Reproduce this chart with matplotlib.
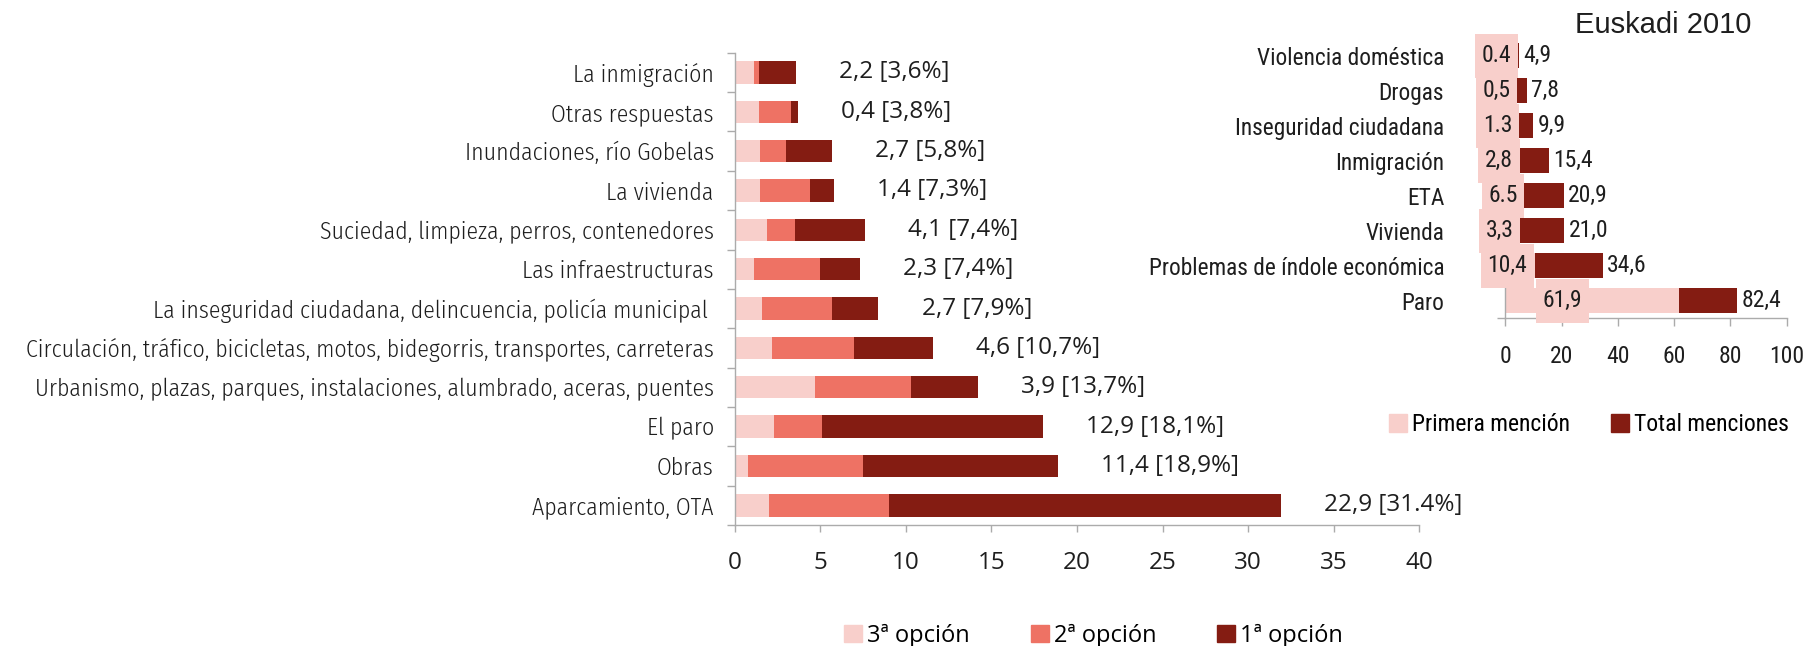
import matplotlib
matplotlib.use("Agg")
import matplotlib.pyplot as plt
import numpy as np
from matplotlib.patches import Patch
from matplotlib.path import Path
from matplotlib.font_manager import FontProperties

# ---------------------------------------------------------------------
# Left chart: problems of the municipality (top to bottom)
# ---------------------------------------------------------------------
problemas = [
    "La inmigración",
    "Otras respuestas",
    "Inundaciones, río Gobelas",
    "La vivienda",
    "Suciedad, limpieza, perros, contenedores",
    "Las infraestructuras",
    "La inseguridad ciudadana, delincuencia, policía municipal ",
    "Circulación, tráfico, bicicletas, motos, bidegorris, transportes, carreteras",
    "Urbanismo, plazas, parques, instalaciones, alumbrado, aceras, puentes",
    "El paro",
    "Obras",
    "Aparcamiento, OTA",
]
opcion_3 = [1.1, 1.4, 1.5, 1.5, 1.9, 1.1, 1.6, 2.2, 4.7, 2.3, 0.8, 2.0]
opcion_2 = [0.3, 1.9, 1.5, 2.9, 1.6, 3.9, 4.1, 4.8, 5.6, 2.8, 6.7, 7.0]
opcion_1 = [2.2, 0.4, 2.7, 1.4, 4.1, 2.3, 2.7, 4.6, 3.9, 12.9, 11.4, 22.9]
etiquetas = [
    "2,2 [3,6%]", "0,4 [3,8%]", "2,7 [5,8%]", "1,4 [7,3%]", "4,1 [7,4%]",
    "2,3 [7,4%]", "2,7 [7,9%]", "4,6 [10,7%]", "3,9 [13,7%]",
    "12,9 [18,1%]", "11,4 [18,9%]", "22,9 [31.4%]",
]
x_ticks = [0, 5, 10, 15, 20, 25, 30, 35, 40]

# ---------------------------------------------------------------------
# Right chart: Euskadi 2010
# ---------------------------------------------------------------------
temas = [
    "Violencia doméstica",
    "Drogas",
    "Inseguridad ciudadana",
    "Inmigración",
    "ETA",
    "Vivienda",
    "Problemas de índole económica",
    "Paro",
]
primera_mencion = [0.4, 0.5, 1.3, 2.8, 6.5, 3.3, 10.4, 61.9]
total_menciones = [4.9, 7.8, 9.9, 15.4, 20.9, 21.0, 34.6, 82.4]
primera_txt = ["0.4", "0,5", "1.3", "2,8", "6.5", "3,3", "10,4", "61,9"]
total_txt = ["4,9", "7,8", "9,9", "15,4", "20,9", "21,0", "34,6", "82,4"]
x_ticks_2 = [0, 20, 40, 60, 80, 100]

PINK = "#F8CFCB"
CORAL = "#EE7264"
DARK = "#841C12"
AXIS = "#ABABAB"
INK = "#1E1E1E"

# fonts: semi-condensed light for the left categories, Open Sans for the
# left numbers, Roboto Condensed for the whole right chart
CAT_FONT = FontProperties(family=["Fira Sans Condensed", "DejaVu Sans"],
                          weight=300, size=17.1)
NUM_FONT = FontProperties(family=["Open Sans", "DejaVu Sans"], size=17.5)
LEG_FONT = FontProperties(family=["Open Sans", "DejaVu Sans"], size=17)
COND = ["Roboto Condensed", "DejaVu Sans"]
R_FONT = FontProperties(family=COND, size=17)
R_CAT_FONT = FontProperties(family=COND, size=16.8)


def label_box(x0, y0, width, height, mutation_size):
    """Rectangle with more vertical than horizontal padding."""
    px, py = 0.28 * mutation_size, 0.45 * mutation_size
    x0, y0 = x0 - px, y0 - py
    x1, y1 = x0 + width + 2 * px, y0 + height + 2 * py
    return Path([(x0, y0), (x1, y0), (x1, y1), (x0, y1), (x0, y0)], closed=True)


fig = plt.figure(figsize=(18.06, 6.46), dpi=100)

# =====================================================================
# Left stacked bar chart
# =====================================================================
ax = fig.add_axes([0.4068, 0.1873, 0.3791, 0.7311])
y = np.arange(len(problemas))
base_2 = np.array(opcion_3)
base_1 = base_2 + np.array(opcion_2)
totals = base_1 + np.array(opcion_1)

ax.barh(y, opcion_3, height=0.57, color=PINK, zorder=2)
ax.barh(y, opcion_2, left=base_2, height=0.57, color=CORAL, zorder=2)
ax.barh(y, opcion_1, left=base_1, height=0.57, color=DARK, zorder=2)

for yi, tot, txt in zip(y, totals, etiquetas):
    ax.annotate(txt, (tot, yi), xytext=(31, 0), textcoords="offset points",
                ha="left", va="center", fontproperties=NUM_FONT, color=INK)

ax.set_xlim(0, 40)
ax.set_ylim(len(y) - 0.5, -0.5)
ax.set_xticks(x_ticks)
ax.set_xticklabels([str(t) for t in x_ticks], fontproperties=NUM_FONT,
                   color=INK)
ax.set_yticks(np.arange(len(y) + 1) - 0.5)
ax.set_yticklabels([])
ax.set_yticks(y, minor=True)
ax.set_yticklabels(problemas, minor=True, fontproperties=CAT_FONT, color=INK)
ax.tick_params(axis="y", which="minor", length=0, pad=15)
ax.tick_params(axis="y", which="major", length=5.8, width=1, color=AXIS)
ax.tick_params(axis="x", length=5, width=1, color=AXIS, pad=14)
for side in ("top", "right"):
    ax.spines[side].set_visible(False)
for side in ("left", "bottom"):
    ax.spines[side].set_color(AXIS)
    ax.spines[side].set_linewidth(1)

fig.legend(
    handles=[Patch(color=PINK, label="3ª opción"),
             Patch(color=CORAL, label="2ª opción"),
             Patch(color=DARK, label="1ª opción")],
    loc="center", bbox_to_anchor=(0.6055, 0.016), ncol=3, frameon=False,
    prop=LEG_FONT, handlelength=0.76, handleheight=0.76,
    handletextpad=0.2, columnspacing=2.6, borderaxespad=0, borderpad=0,
)

# =====================================================================
# Right overlaid bar chart
# =====================================================================
ax2 = fig.add_axes([0.8335, 0.5073, 0.1558, 0.4334])
y2 = np.arange(len(temas))
ax2.barh(y2, total_menciones, height=0.71, color=DARK, zorder=2)
ax2.barh(y2, primera_mencion, height=0.71, color=PINK, zorder=2.2)

for yi, val, txt in zip(y2, total_menciones, total_txt):
    ax2.annotate(txt, (val, yi), xytext=(3, 0), textcoords="offset points",
                 ha="left", va="center", fontproperties=R_FONT, color=INK)

# first-mention labels sit in pink boxes, hand-placed near the axis
for yi, val, txt in zip(y2, primera_mencion, primera_txt):
    xpos = 0.38 * val - 3.3
    ax2.text(xpos, yi, txt, ha="center", va="center", fontproperties=R_FONT,
             color=(0, 0, 0, 0), zorder=5, clip_on=False,
             bbox=dict(boxstyle=label_box, fc=PINK, ec="none"))
    ax2.text(xpos, yi, txt, ha="center", va="center", fontproperties=R_FONT,
             color=INK, zorder=6, clip_on=False)

ax2.set_xlim(0, 100)
ax2.set_ylim(len(y2) - 0.5, -0.5)
ax2.set_xticks(x_ticks_2)
ax2.set_xticklabels([str(t) for t in x_ticks_2], fontproperties=R_FONT,
                    color=INK)
ax2.set_yticks(np.arange(len(y2) + 1) - 0.5)
ax2.set_yticklabels([])
ax2.set_yticks(y2, minor=True)
ax2.set_yticklabels(temas, minor=True, fontproperties=R_CAT_FONT, color=INK)
ax2.tick_params(axis="y", which="minor", length=0, pad=44)
ax2.tick_params(axis="y", which="major", length=5.8, width=1, color=AXIS)
ax2.tick_params(axis="x", length=5.5, width=1, color=AXIS, pad=14)
for side in ("top", "right"):
    ax2.spines[side].set_visible(False)
for side in ("left", "bottom"):
    ax2.spines[side].set_color(AXIS)
    ax2.spines[side].set_linewidth(1)

fig.text(0.8721, 0.9613, "Euskadi 2010", ha="left", va="center",
         fontsize=21, family=["Liberation Sans", "DejaVu Sans"], color=INK)

fig.legend(
    handles=[Patch(color=PINK, label="Primera mención"),
             Patch(color=DARK, label="Total menciones")],
    loc="center", bbox_to_anchor=(0.8797, 0.3426), ncol=2, frameon=False,
    prop=R_FONT, handlelength=0.76, handleheight=0.76, handletextpad=0.2,
    columnspacing=1.75, borderaxespad=0, borderpad=0,
)

fig.savefig("out.png", dpi=100)
